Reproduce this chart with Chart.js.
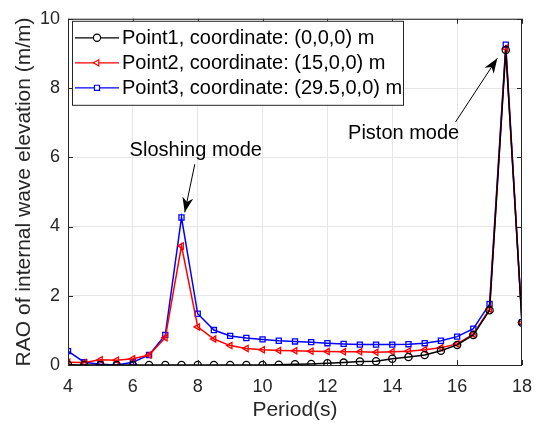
<!DOCTYPE html>
<html>
<head>
<meta charset="utf-8">
<script src="https://cdn.jsdelivr.net/npm/chart.js@4/dist/chart.umd.min.js"></script>
<style>
  body { margin: 0; background: #fff; }
  canvas { display: block; }
</style>
</head>
<body>
<canvas id="raoChart" width="543" height="429"></canvas>
<script>
// Periods (s)
const periods = [4, 4.5, 5, 5.5, 6, 6.5, 7, 7.5, 8, 8.5, 9, 9.5, 10, 10.5, 11, 11.5,
                 12, 12.5, 13, 13.5, 14, 14.5, 15, 15.5, 16, 16.5, 17, 17.5, 18];

// RAO values
const point1 = [0.01, 0.0, 0.0, 0.0, 0.0, 0.0, 0.0, 0.0, 0.0, 0.0, 0.0, 0.0, 0.0, 0.01, 0.02, 0.03,
                0.05, 0.07, 0.10, 0.11, 0.18, 0.23, 0.29, 0.41, 0.58, 0.87, 1.58, 9.10, 1.22];
const point2 = [0.08, 0.07, 0.15, 0.14, 0.18, 0.29, 0.79, 3.44, 1.10, 0.75, 0.56, 0.48, 0.44, 0.42, 0.41, 0.40,
                0.39, 0.38, 0.38, 0.37, 0.38, 0.40, 0.44, 0.50, 0.61, 0.89, 1.61, 9.15, 1.22];
const point3 = [0.40, 0.08, 0.02, 0.0, 0.08, 0.29, 0.87, 4.26, 1.48, 1.01, 0.84, 0.78, 0.74, 0.70, 0.68, 0.66,
                0.63, 0.61, 0.59, 0.59, 0.59, 0.60, 0.63, 0.70, 0.82, 1.05, 1.76, 9.25, 1.24];

const seriesLabels = ['Point1, coordinate: (0,0,0) m',
                      'Point2, coordinate: (15,0,0) m',
                      'Point3, coordinate: (29.5,0,0) m'];

const xTicks = [4, 6, 8, 10, 12, 14, 16, 18];
const yTicks = [0, 2, 4, 6, 8, 10];

// Annotations: text position, arrow tail and head in data units
const notes = [
    { text: 'Sloshing mode', tx: 7.94, ty: 6.20, ax: 7.91, ay: 5.80, bx: 7.60, by: 4.41 },
    { text: 'Piston mode', tx: 14.35, ty: 6.70, ax: 15.95, ay: 7.02, bx: 17.24, by: 8.86 }
];

const FONT = 'Arial, "Liberation Sans", Helvetica, sans-serif';
const INK = '#262626';

function toXY(ys) {
    return periods.map((p, i) => ({ x: p, y: ys[i] }));
}

// Draw one marker the same way the datasets do
function drawMarker(ctx, ds, x, y) {
    Chart.helpers.drawPoint(ctx, {
        pointStyle: ds.pointStyle,
        radius: ds.pointRadius,
        rotation: ds.pointRotation || 0,
        borderWidth: ds.pointBorderWidth
    }, x, y);
}

// MATLAB style box, inward ticks, legend and arrows
const decorPlugin = {
    id: 'decor',
    afterDatasetsDraw(chart) {
        const ctx = chart.ctx;
        const a = chart.chartArea;
        const xs = chart.scales.x;
        const ys = chart.scales.y;
        ctx.save();

        // box
        ctx.strokeStyle = INK;
        ctx.lineWidth = 1;
        ctx.strokeRect(a.left + 0.5, a.top + 0.5, a.right - a.left - 1, a.bottom - a.top);

        // inward ticks
        ctx.beginPath();
        xTicks.forEach(v => {
            const px = Math.round(xs.getPixelForValue(v)) + 0.5;
            ctx.moveTo(px, a.bottom); ctx.lineTo(px, a.bottom - 5);
            ctx.moveTo(px, a.top); ctx.lineTo(px, a.top + 5);
        });
        yTicks.forEach(v => {
            const py = Math.round(ys.getPixelForValue(v)) + 0.5;
            ctx.moveTo(a.left, py); ctx.lineTo(a.left + 5, py);
            ctx.moveTo(a.right, py); ctx.lineTo(a.right - 5, py);
        });
        ctx.stroke();

        // legend
        const lx = a.left + 4, ly = a.top + 2, lw = 331, lh = 84;
        ctx.fillStyle = '#fff';
        ctx.fillRect(lx, ly, lw, lh);
        ctx.strokeStyle = INK;
        ctx.strokeRect(lx + 0.5, ly + 0.5, lw, lh);
        ctx.font = '20px ' + FONT;
        ctx.textBaseline = 'middle';
        chart.data.datasets.forEach((ds, i) => {
            const cy = ly + 17 + i * 25;
            ctx.strokeStyle = ds.borderColor;
            ctx.lineWidth = 1.2;
            ctx.beginPath();
            ctx.moveTo(lx + 3, cy); ctx.lineTo(lx + 47, cy);
            ctx.stroke();
            ctx.fillStyle = '#fff';
            drawMarker(ctx, ds, lx + 25, cy);
            ctx.fillStyle = '#000';
            ctx.fillText(ds.label, lx + 50, cy + 1);
        });

        // annotations
        ctx.font = '20px ' + FONT;
        ctx.textAlign = 'center';
        ctx.fillStyle = '#000';
        ctx.strokeStyle = '#000';
        ctx.lineWidth = 1;
        notes.forEach(n => {
            ctx.fillText(n.text, xs.getPixelForValue(n.tx), ys.getPixelForValue(n.ty));
            const x1 = xs.getPixelForValue(n.ax), y1 = ys.getPixelForValue(n.ay);
            const x2 = xs.getPixelForValue(n.bx), y2 = ys.getPixelForValue(n.by);
            ctx.beginPath();
            ctx.moveTo(x1, y1); ctx.lineTo(x2, y2);
            ctx.stroke();
            const ang = Math.atan2(y2 - y1, x2 - x1);
            const L = 15, W = 5.5;
            ctx.beginPath();
            ctx.moveTo(x2, y2);
            ctx.lineTo(x2 - L * Math.cos(ang) + W * Math.sin(ang), y2 - L * Math.sin(ang) - W * Math.cos(ang));
            ctx.lineTo(x2 - L * 0.7 * Math.cos(ang), y2 - L * 0.7 * Math.sin(ang));
            ctx.lineTo(x2 - L * Math.cos(ang) - W * Math.sin(ang), y2 - L * Math.sin(ang) + W * Math.cos(ang));
            ctx.closePath();
            ctx.fill();
        });

        ctx.restore();
    }
};

function makeDataset(label, ys, color, style, rotation) {
    return {
        label: label,
        data: toXY(ys),
        borderColor: color,
        backgroundColor: 'rgba(255,255,255,0)',
        borderWidth: 1.5,
        pointStyle: style,
        pointRotation: rotation,
        pointRadius: 3.6,
        pointBorderWidth: 1.3,
        pointBorderColor: color,
        pointBackgroundColor: 'rgba(255,255,255,0)',
        tension: 0
    };
}

new Chart(document.getElementById('raoChart').getContext('2d'), {
    type: 'line',
    data: {
        datasets: [
            makeDataset(seriesLabels[0], point1, '#000000', 'circle', 0),
            makeDataset(seriesLabels[1], point2, '#ff0000', 'triangle', -90),
            makeDataset(seriesLabels[2], point3, '#0000ff', 'rect', 0)
        ]
    },
    options: {
        responsive: false,
        animation: false,
        layout: { padding: { top: 11, right: 10, left: 0, bottom: 0 } },
        plugins: {
            legend: { display: false },
            tooltip: { enabled: false }
        },
        scales: {
            x: {
                type: 'linear',
                min: 4,
                max: 18,
                afterBuildTicks: axis => { axis.ticks = xTicks.map(v => ({ value: v })); },
                afterFit: axis => { axis.height = 64; },
                grid: { color: '#e6e6e6', drawTicks: false },
                border: { display: false },
                ticks: { color: INK, font: { family: FONT, size: 18 }, padding: 11, maxRotation: 0 },
                title: { display: true, text: 'Period(s)', color: INK, font: { family: FONT, size: 21 }, padding: { top: 0, bottom: 6 } }
            },
            y: {
                min: 0,
                max: 10,
                afterBuildTicks: axis => { axis.ticks = yTicks.map(v => ({ value: v })); },
                afterFit: axis => { axis.width = 68; },
                grid: { color: '#e6e6e6', drawTicks: false },
                border: { display: false },
                ticks: { color: INK, font: { family: FONT, size: 18 }, padding: 8 },
                title: { display: true, text: 'RAO of internal wave elevation (m/m)', color: INK, font: { family: FONT, size: 21 }, padding: { top: 12, bottom: 0 } }
            }
        }
    },
    plugins: [decorPlugin]
});
</script>
</body>
</html>
